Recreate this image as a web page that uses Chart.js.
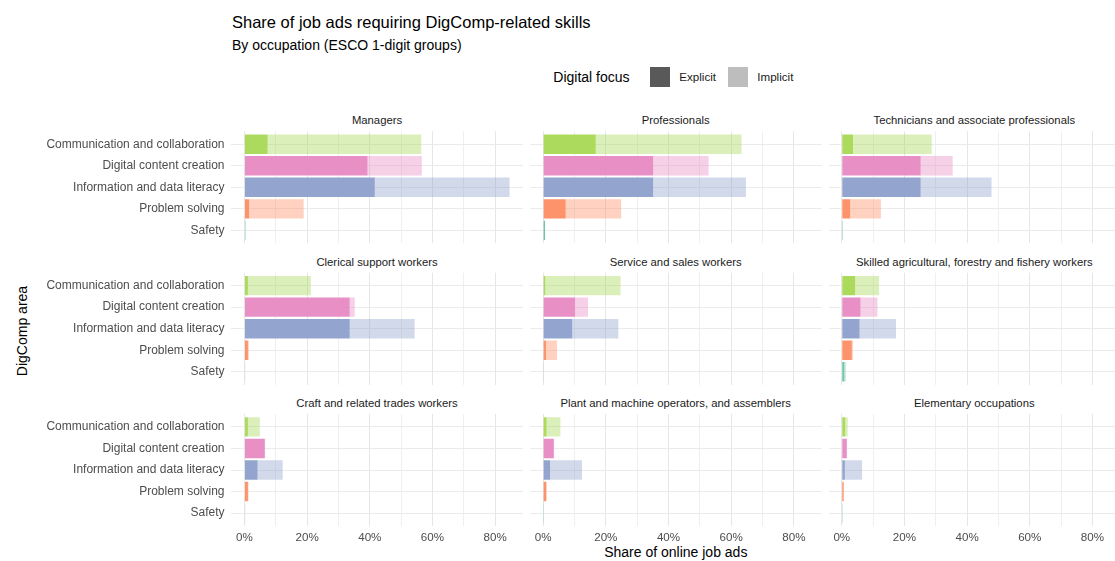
<!DOCTYPE html>
<html>
<head>
<meta charset="utf-8">
<script src="https://cdn.jsdelivr.net/npm/chart.js@4.4.1/dist/chart.umd.min.js"></script>
<style>
  html, body { margin: 0; padding: 0; background: #fff; }
  body {
    width: 1115px; height: 561px; overflow: hidden; position: relative;
    font-family: "Liberation Sans", Arial, sans-serif;
  }
  .txt { position: absolute; white-space: nowrap; line-height: 1; }
  .key { position: absolute; width: 20px; height: 20px; }
  canvas { position: absolute; }
</style>
</head>
<body>
<script>
// ---- data (shares in % of online job ads) ----
const occupations = [
    'Managers',
    'Professionals',
    'Technicians and associate professionals',
    'Clerical support workers',
    'Service and sales workers',
    'Skilled agricultural, forestry and fishery workers',
    'Craft and related trades workers',
    'Plant and machine operators, and assemblers',
    'Elementary occupations'
];
const areas = [
    'Communication and collaboration',
    'Digital content creation',
    'Information and data literacy',
    'Problem solving',
    'Safety'
];
// one row per occupation, columns in the order of areas
const explicitShare = [
    [7.4, 39.3, 41.6, 1.5, 0.3],
    [16.8, 35.1, 35.1, 7.2, 0.6],
    [3.6, 25.2, 25.2, 2.7, 0.3],
    [1.1, 33.6, 33.6, 1.1, 0.2],
    [0.7, 10.2, 9.3, 0.9, 0.2],
    [4.3, 6.0, 5.7, 3.2, 0.8],
    [1.1, 6.5, 4.2, 1.1, 0.2],
    [1.1, 3.4, 2.2, 1.0, 0.1],
    [1.1, 1.6, 1.0, 0.6, 0.1]
];
const implicitShare = [
    [49.0, 17.3, 43.0, 17.4, 0],
    [46.5, 17.7, 29.6, 17.7, 0],
    [25.1, 10.2, 22.6, 9.8, 0],
    [20.1, 1.6, 20.7, 0.3, 0],
    [24.0, 4.1, 14.7, 3.5, 0],
    [7.6, 5.4, 11.6, 0.4, 0.5],
    [3.8, 0.1, 8.0, 0.2, 0],
    [4.4, 0.1, 10.2, 0.1, 0],
    [0.8, 0.1, 5.5, 0.1, 0.1]
];
const xTicks = [0, 10, 20, 30, 40, 50, 60, 70, 80];
const xLabelEvery = 20;

// ---- look ----
const areaColors = ['#a6d854', '#e78ac3', '#8da0cb', '#fc8d62', '#66c2a5'];
const explicitAlpha = 0.95;
const implicitAlpha = 0.4;
const xMin = -4.23, xMax = 88.83;

// panel geometry (page pixels)
const colLeft = [231.2, 529.9, 828.5];
const rowTop = [131.3, 272.7, 414.0];
const panelW = 291.6;
const panelH = 112;
const tickSpace = 26;
const fontFamily = '"Liberation Sans", Arial, sans-serif';

function rgba(hex, a) {
    const n = parseInt(hex.slice(1), 16);
    return `rgba(${n >> 16}, ${(n >> 8) & 255}, ${n & 255}, ${a})`;
}

function addText(text, x, baseline, size, opts = {}) {
    const d = document.createElement('div');
    d.className = 'txt';
    d.textContent = text;
    d.style.fontSize = size + 'px';
    d.style.color = opts.color || '#000';
    d.style.top = (baseline - 0.8465 * size) + 'px';
    d.style.left = x + 'px';
    if (opts.center) d.style.transform = 'translateX(-50%)';
    document.body.appendChild(d);
    return d;
}

// titles and legend
addText('Share of job ads requiring DigComp-related skills', 232, 27.5, 16.5);
addText('By occupation (ESCO 1-digit groups)', 232, 50, 14);
addText('Digital focus', 553.3, 82, 14);
[['Explicit', '#595959', 650, 679.3], ['Implicit', '#bdbdbd', 728.3, 757.3]].forEach(([lab, col, kx, tx]) => {
    const k = document.createElement('div');
    k.className = 'key';
    k.style.left = kx + 'px';
    k.style.top = '66.7px';
    k.style.background = col;
    document.body.appendChild(k);
    addText(lab, tx, 81, 11.6, { color: '#1a1a1a' });
});
addText('Share of online job ads', 675.8, 556.5, 14, { center: true });
const yTitle = addText('DigComp area', 0, 0, 14);
yTitle.style.left = '22px';
yTitle.style.top = '331px';
yTitle.style.transform = 'translate(-50%, -50%) rotate(-90deg)';

// no extra room for tick labels: the panel box is fixed
function noPadding(s) {
    s.paddingTop = 0;
    s.paddingBottom = 0;
    s.paddingLeft = 0;
    s.paddingRight = 0;
}

// panels
occupations.forEach((occ, k) => {
    const col = k % 3, row = Math.floor(k / 3);
    const leftCol = col === 0, bottomRow = row === 2;

    addText(occ, colLeft[col] + panelW / 2, rowTop[row] - 6.3, 11.3, { center: true, color: '#1a1a1a' });

    const cLeft = leftCol ? 0 : Math.floor(colLeft[col]);
    const cTop = Math.floor(rowTop[row]);
    const yAxisW = colLeft[col] - cLeft;
    const padTop = rowTop[row] - cTop;
    const cW = Math.ceil(colLeft[col] + panelW) - cLeft;
    const padRight = cW - (yAxisW + panelW);
    const cH = Math.ceil(padTop + panelH + (bottomRow ? tickSpace : 0));
    const padBottom = cH - padTop - panelH - (bottomRow ? tickSpace : 0);

    const canvas = document.createElement('canvas');
    canvas.width = cW;
    canvas.height = cH;
    canvas.style.left = cLeft + 'px';
    canvas.style.top = cTop + 'px';
    canvas.style.width = cW + 'px';
    canvas.style.height = cH + 'px';
    document.body.appendChild(canvas);

    new Chart(canvas.getContext('2d'), {
        type: 'bar',
        data: {
            datasets: [
                {
                    label: 'Explicit',
                    data: areas.map((a, i) => ({ x: explicitShare[k][i], y: i })),
                    backgroundColor: areaColors.map(c => rgba(c, explicitAlpha)),
                    borderWidth: 0,
                    barPercentage: 0.9,
                    categoryPercentage: 1
                },
                {
                    label: 'Implicit',
                    data: areas.map((a, i) => ({ x: implicitShare[k][i], y: i })),
                    backgroundColor: areaColors.map(c => rgba(c, implicitAlpha)),
                    borderWidth: 0,
                    barPercentage: 0.9,
                    categoryPercentage: 1
                }
            ]
        },
        options: {
            indexAxis: 'y',
            responsive: false,
            animation: false,
            devicePixelRatio: 1,
            layout: { padding: { left: 0, top: padTop, right: padRight, bottom: padBottom } },
            plugins: { legend: { display: false }, tooltip: { enabled: false } },
            scales: {
                x: {
                    type: 'linear',
                    stacked: true,
                    min: xMin,
                    max: xMax,
                    afterBuildTicks: s => { s.ticks = xTicks.map(v => ({ value: v })); },
                    afterFit: s => { s.height = bottomRow ? tickSpace : 0; noPadding(s); },
                    border: { display: false },
                    grid: {
                        drawTicks: false,
                        color: c => (c.tick && c.tick.value % xLabelEvery === 0) ? '#e6e6e6' : '#efefef',
                        lineWidth: 1
                    },
                    ticks: {
                        display: bottomRow,
                        autoSkip: false,
                        maxRotation: 0,
                        padding: 5,
                        color: '#4d4d4d',
                        font: { family: fontFamily, size: 11.6 },
                        callback: v => v % xLabelEvery === 0 ? v + '%' : ''
                    }
                },
                y: {
                    type: 'linear',
                    reverse: true,
                    stacked: true,
                    offset: false,
                    min: -0.6,
                    max: areas.length - 0.4,
                    afterBuildTicks: s => { s.ticks = areas.map((a, i) => ({ value: i })); },
                    afterFit: s => { s.width = yAxisW; noPadding(s); },
                    border: { display: false },
                    grid: { drawTicks: false, offset: false, color: '#ebebeb', lineWidth: 1 },
                    ticks: {
                        display: leftCol,
                        autoSkip: false,
                        padding: 6.7,
                        color: '#4d4d4d',
                        font: { family: fontFamily, size: 12 },
                        callback: v => areas[v]
                    }
                }
            }
        }
    });
});
</script>
</body>
</html>
